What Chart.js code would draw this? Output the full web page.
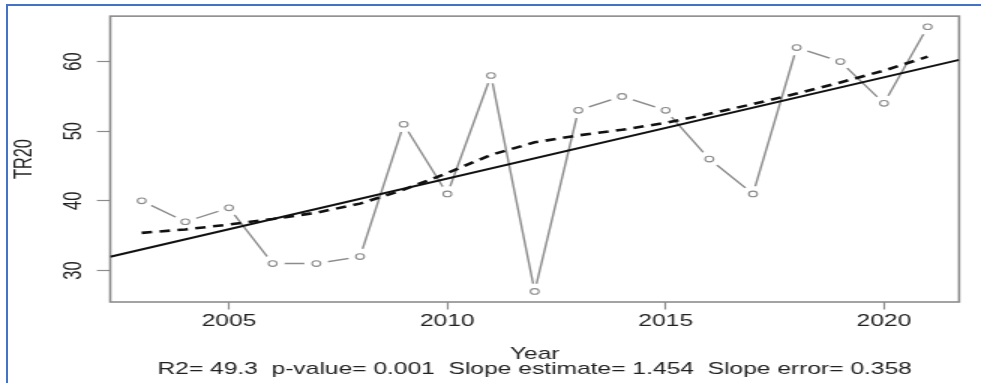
<!DOCTYPE html>
<html>
<head>
<meta charset="utf-8">
<script src="https://cdn.jsdelivr.net/npm/chart.js@4"></script>
<style>
  html, body { margin: 0; padding: 0; background: #fff; overflow: hidden; }
  #stretch { position: absolute; left: 0; top: 0; width: 654px; height: 383px;
             transform: scaleX(1.5); transform-origin: 0 0; }
  #frame { position: absolute; left: 6px; top: 4px; width: 975px; height: 379px; box-sizing: border-box;
           border-top: 2px solid #4472c4; border-left: 2px solid #4472c4; pointer-events: none; }
</style>
</head>
<body>
<div id="stretch"><canvas id="c" width="654" height="383"></canvas></div>
<div id="frame"></div>
<script>
// Annual TR20 counts, 2003-2021
const years = [2003, 2004, 2005, 2006, 2007, 2008, 2009, 2010, 2011, 2012,
               2013, 2014, 2015, 2016, 2017, 2018, 2019, 2020, 2021];
const tr20  = [40, 37, 39, 31, 31, 32, 51, 41, 58, 27,
               53, 55, 53, 46, 41, 62, 60, 54, 65];
// Smoothed (lowess) curve through the series
const smoothTR20 = [35.4, 35.9, 36.6, 37.4, 38.3, 39.6, 41.6, 44.0, 46.6, 48.4,
                    49.4, 50.2, 51.2, 52.5, 53.9, 55.4, 57.0, 58.7, 60.7];
const xTicks = [2005, 2010, 2015, 2020];
const yTicks = [30, 40, 50, 60];

// Trend statistics
const r2 = 49.3;
const pValue = '0.001';
const slopeEstimate = 1.454;
const slopeError = 0.358;

const statsLine = 'R2= ' + r2 + '  p-value= ' + pValue +
                  '  Slope estimate= ' + slopeEstimate + '  Slope error= ' + slopeError;

// Axis limits padded by 4% of the data range on each side
const pad = (lo, hi) => [lo - 0.04 * (hi - lo), hi + 0.04 * (hi - lo)];
const [xMin, xMax] = pad(Math.min(...years), Math.max(...years));
const [yMin, yMax] = pad(Math.min(...tr20), Math.max(...tr20));

// Least-squares trend line through the mean point with the stated slope
const meanX = years.reduce((a, b) => a + b, 0) / years.length;
const meanY = tr20.reduce((a, b) => a + b, 0) / tr20.length;
const trendAt = x => meanY + slopeEstimate * (x - meanX);

const obs = years.map((x, i) => ({ x, y: tr20[i] }));
const smooth = years.map((x, i) => ({ x, y: smoothTR20[i] }));
const trend = [{ x: xMin, y: trendAt(xMin) }, { x: xMax, y: trendAt(xMax) }];

const GREY = '#8c8c8c';
const INK = '#222';
const FONT = { family: "'Liberation Sans', Arial, Helvetica, sans-serif", size: 16.4 };

// Plot frame around the chart area
const boxPlugin = {
  id: 'plotBox',
  beforeDatasetsDraw(chart) {
    const { ctx, chartArea: a } = chart;
    ctx.save();
    ctx.strokeStyle = GREY;
    ctx.lineWidth = 1.6;
    ctx.strokeRect(a.left, a.top, a.right - a.left, a.bottom - a.top);
    ctx.restore();
  }
};

new Chart(document.getElementById('c'), {
  type: 'scatter',
  data: {
    datasets: [
      { label: 'trend', data: trend, showLine: true, borderColor: '#111', borderWidth: 2,
        pointRadius: 0, order: 0 },
      { label: 'smooth', data: smooth, showLine: true, borderColor: '#111', borderWidth: 2.6,
        borderDash: [7, 5], pointRadius: 0, tension: 0, order: 1 },
      { label: 'TR20', data: obs, showLine: false, pointRadius: 2.8, pointBorderWidth: 1.1,
        pointBorderColor: GREY, pointBackgroundColor: '#fff', order: 2 },
      { label: 'gap', data: obs, showLine: false, pointRadius: 8, pointBorderWidth: 0,
        pointBackgroundColor: '#fff', pointBorderColor: '#fff', order: 3 },
      { label: 'series', data: obs, showLine: true, borderColor: GREY, borderWidth: 1.4,
        pointRadius: 0, tension: 0, order: 4 }
    ]
  },
  options: {
    responsive: false,
    devicePixelRatio: 1,
    animation: false,
    events: [],
    layout: { padding: { top: 13, right: 14.6, left: 0, bottom: 0 } },
    plugins: { legend: { display: false }, tooltip: { enabled: false } },
    scales: {
      x: {
        type: 'linear', min: xMin, max: xMax,
        afterBuildTicks: s => { s.ticks = xTicks.map(v => ({ value: v })); },
        afterFit: s => { s.height = 81; },
        grid: { drawOnChartArea: false, drawTicks: true, tickLength: 7.5, tickColor: GREY, tickWidth: 1.2 },
        border: { display: false },
        ticks: { font: FONT, color: INK, padding: 2, maxRotation: 0, autoSkip: false,
                 callback: v => String(v) },
        title: { display: true, text: ['Year', statsLine], color: INK,
                 font: Object.assign({}, FONT, { lineHeight: 15 / 16.4 }),
                 padding: { top: 0, bottom: 5.6 } }
      },
      y: {
        type: 'linear', min: yMin, max: yMax,
        afterBuildTicks: s => { s.ticks = yTicks.map(v => ({ value: v })); },
        afterFit: s => { s.width = 73.5; },
        grid: { drawOnChartArea: false, drawTicks: true, tickLength: 8.9, tickColor: GREY, tickWidth: 1.2 },
        border: { display: false },
        ticks: { font: FONT, color: INK, padding: 6.3, minRotation: 90, maxRotation: 90,
                 crossAlign: 'center', autoSkip: false, callback: v => String(v) },
        title: { display: true, text: 'TR20', color: INK, font: FONT, padding: { top: 6.4, bottom: 0 } }
      }
    }
  },
  plugins: [boxPlugin]
});
</script>
</body>
</html>
